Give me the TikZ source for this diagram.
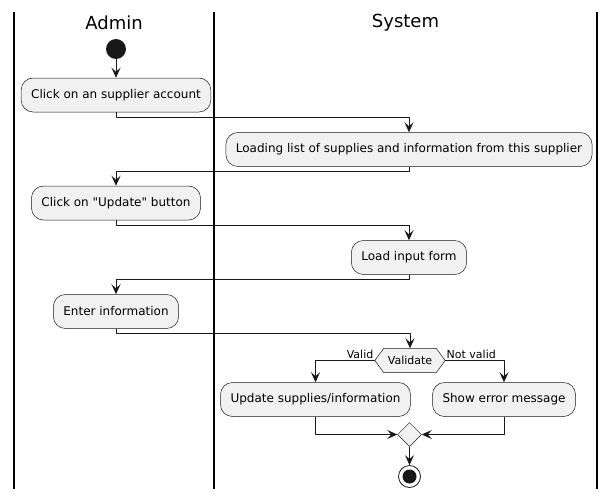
\documentclass[tikz,border=0pt]{standalone}
\usepackage{fontspec}
\setmainfont{DejaVu Sans}[Ligatures=TeXOff]
\usetikzlibrary{arrows.meta,shapes.geometric,backgrounds}
\definecolor{boxfill}{HTML}{F1F1F1}
\definecolor{ink}{HTML}{181818}

\begin{document}
\begin{tikzpicture}[
	x=1pt,
	y=-1pt,
	line join=round,
	>={Stealth[length=10pt,width=9pt,inset=4pt]},
	act/.style={draw=ink, line width=0.5pt, fill=boxfill, rounded corners=12pt,
		minimum height=34pt, inner xsep=10pt, font=\fontsize{12}{14}\selectfont},
	flow/.style={->, draw=ink, line width=1pt},
	lane/.style={line width=1.2pt, draw=black},
	lanetitle/.style={font=\fontsize{18}{22}\selectfont},
	guard/.style={font=\fontsize{11}{13}\selectfont, inner sep=1pt},
	]
\useasboundingbox (0,0) rectangle (615,499);
% swimlanes
\foreach \x in {14, 214, 597}
	\draw[lane] (\x,12) -- (\x,489);
\node[lanetitle] (admin) at (114,23) {Admin};
\node[lanetitle] (system) at (405.5,23) {System};
% activities
\node[circle, fill=ink, minimum size=20pt, inner sep=0pt] (start) at (116,49) {};
\node[act] (click) at (116,95) {Click on an supplier account};
\node[act] (load) at (409,149.5) {Loading list of supplies and information from this supplier};
\node[act] (upd) at (116,203) {Click on "Update" button};
\node[act] (form) at (409,257.5) {Load input form};
\node[act] (enter) at (116,311.5) {Enter information};
\node[minimum width=70pt, minimum height=24pt, inner sep=0pt,
	font=\fontsize{11}{13}\selectfont] (check) at (410,360.5) {Validate};
\begin{scope}[on background layer]
\draw[draw=ink, line width=0.5pt, fill=boxfill] (check.west)
	-- ([xshift=9pt]check.north west) -- ([xshift=-9pt]check.north east)
	-- (check.east) -- ([xshift=-9pt]check.south east)
	-- ([xshift=9pt]check.south west) -- cycle;
\end{scope}
\node[act] (save) at (315.5,399.5) {Update supplies/information};
\node[act] (error) at (504,399.5) {Show error message};
\node[diamond, draw=ink, line width=0.5pt, fill=boxfill, minimum width=24pt,
	minimum height=24pt, inner sep=0pt] (merge) at (409.5,434.5) {};
\node[circle, draw=ink, line width=0.8pt, fill=white, minimum size=22pt,
	inner sep=0pt] (stop) at (409.5,476.5) {};
\fill[ink] (stop) circle (7pt);
% connectors
\draw[flow] (start) -- (click);
\draw[flow] (click.south) -- ++(0,5) -| (load.north);
\draw[flow] (load.south) -- ++(0,5) -| (upd.north);
\draw[flow] (upd.south) -- ++(0,5) -| (form.north);
\draw[flow] (form.south) -- ++(0,5) -| (enter.north);
\draw[flow] (enter.south) -- ++(0,5) -| (check.north);
\draw[flow] (check.west) node[guard, anchor=south east] {Valid} -| (save.north);
\draw[flow] (check.east) node[guard, anchor=south west] {Not valid} -| (error.north);
\draw[flow] (save.south) |- (merge.west);
\draw[flow] (error.south) |- (merge.east);
\draw[flow] (merge) -- (stop);
\end{tikzpicture}
\end{document}
